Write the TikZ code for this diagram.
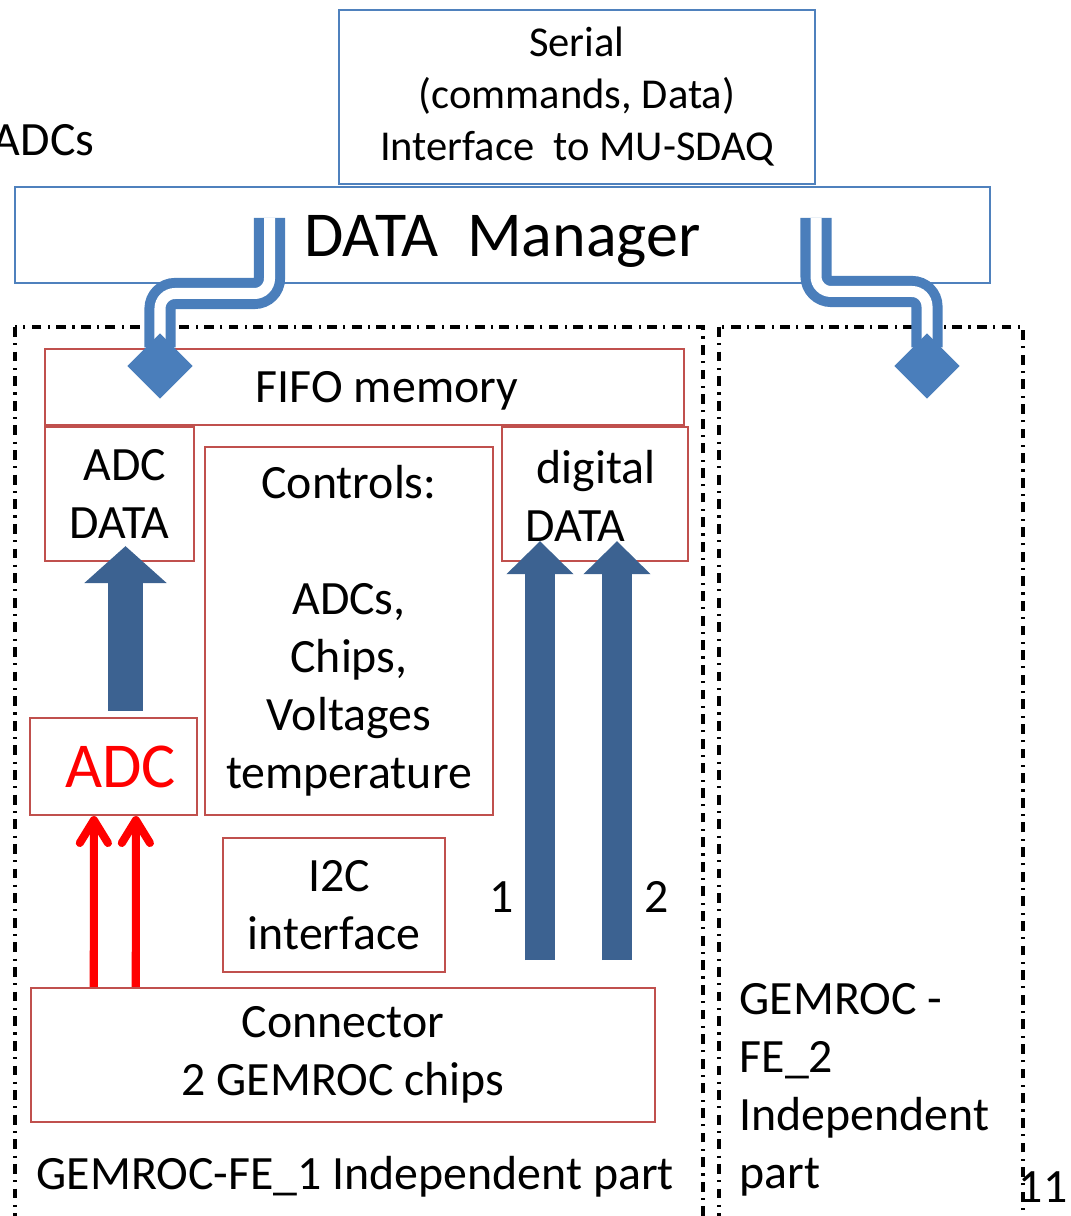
\documentclass[tikz,border=0pt]{standalone}
\usepackage{fontspec}
\setmainfont{Carlito}
\usepackage{tikz}
\usetikzlibrary{arrows.meta,positioning,calc,shapes.geometric}
\usepackage{xcolor}
\definecolor{boxred}{RGB}{192,80,77}
\definecolor{boxblue}{RGB}{79,129,189}
\definecolor{busblue}{RGB}{74,126,187}
\definecolor{fatblue}{RGB}{60,98,145}
\newcommand{\fsbig}{\fontsize{18.2pt}{20pt}\selectfont}
\newcommand{\fsmid}{\fontsize{13.6pt}{16.5pt}\selectfont}
\newcommand{\fssmall}{\fontsize{12.1pt}{14.8pt}\selectfont}

\begin{document}
\begin{tikzpicture}[x=0.01cm, y=-0.01cm,
        redbox/.style={draw=boxred, line width=0.6pt, inner sep=0pt, align=center, font=\fsmid},
        bluebox/.style={draw=boxblue, line width=0.6pt, inner sep=0pt, align=center},
        region/.style={line width=0.9pt, dash pattern=on 2.8pt off 1.8pt on 0.6pt off 1.8pt},
        bus/.style={draw=busblue, double=white, line width=2.85pt, double distance=3.13pt, rounded corners=0.15cm},
        bustip/.style={diamond, aspect=1, fill=busblue, inner sep=0pt, minimum width=0.64cm, minimum height=0.64cm},
        fatarrow/.style={draw=fatblue, line width=9.96pt, -{Triangle[length=10.5pt,width=22.8pt]}},
        slimarrow/.style={draw=fatblue, line width=8.5pt, -{Triangle[length=9.4pt,width=18.5pt]}},
        sigarrow/.style={draw=red, line width=2.3pt, -{Straight Barb[length=6.5pt,width=8pt,round]}},
        lbl/.style={inner sep=0pt, font=\fsmid}]
  \useasboundingbox (0,0) rectangle (1071,1216);
  \draw[region] (15,327) rectangle (703,1240);
  \draw[region] (719,327) rectangle (1023,1240);
  \node[bluebox, minimum width=4.76cm, minimum height=1.74cm, font=\fssmall] (serial) at (577,97)
        {Serial\\(commands, Data)\\Interface~~to MU-SDAQ};
  \node[bluebox, minimum width=9.75cm, minimum height=0.96cm, font=\fsbig, text height=16pt, text depth=4pt] (dm) at (502.5,235) {DATA~~Manager};
  \node[redbox, minimum width=6.39cm, minimum height=0.76cm] (fifo) at (364.5,387) {};
  \node[lbl] (fifotxt) at (387,391) {FIFO memory};
  \node[redbox, minimum width=1.49cm, minimum height=1.34cm] (adcdata) at (119.5,494) {~ADC\\DATA};
  \node[redbox, minimum width=1.86cm, minimum height=1.34cm] (digdata) at (595,494) {};
  \node[lbl, anchor=west, align=left] (digtxt) at (525,496) {~digital\\DATA};
  \node[redbox, minimum width=2.88cm, minimum height=3.68cm] (ctrl) at (349,631)
        {Controls:\\~\\ADCs,\\Chips,\\Voltages\\temperature};
  \node[redbox, minimum width=1.67cm, minimum height=0.97cm, font=\fsbig, text=red] (adc) at (113.5,766.5) {~ADC};
  \node[redbox, minimum width=2.22cm, minimum height=1.34cm] (i2c) at (334,905) {~I2C\\interface};
  \node[redbox, minimum width=6.24cm, minimum height=1.34cm] (conn) at (343,1055) {Connector\\2 GEMROC chips};
  \node[lbl, anchor=east] (adcs) at (95,140) {ADCs};
  \node[lbl] (one) at (502,897) {1};
  \node[lbl] (two) at (657,897) {2};
  \node[lbl, anchor=west] (fe1) at (36,1177) {GEMROC-FE\_1 Independent part};
  \node[lbl, anchor=west, align=left] (fe2) at (739,1090) {GEMROC -\\FE\_2\\Independent\\part};
  \node[lbl] (page) at (1043,1187) {11};
  \coordinate (dmL) at (269.5,218);
  \coordinate (dmR) at (816,218);
  \coordinate (d1) at (540,960);
  \coordinate (d2) at (617,960);
  \node[bustip] (fifoin) at (160,366) {};
  \node[bustip] (fe2in) at (927,366) {};
  \draw[bus, shorten >=-0.14cm] (dmL) -- ++(0,75.5) -| (fifoin.north);
  \draw[bus, shorten >=-0.14cm] (dmR) -- ++(0,73.5) -| (fe2in.north);
  \fill[busblue] (fifoin.north) -- (fifoin.east) -- (fifoin.south) -- (fifoin.west) -- cycle;
  \fill[busblue] (fe2in.north) -- (fe2in.east) -- (fe2in.south) -- (fe2in.west) -- cycle;
  \draw[fatarrow] ($(adc.north)+(12,-6)$) -- ($(adcdata.south)+(6,-16)$);
  \draw[slimarrow] (d1) -- ($(digdata.south)+(-55,-21)$);
  \draw[slimarrow] (d2) -- ($(digdata.south)+(22,-21)$);
  \draw[sigarrow] ($(conn.north west)+(64,0)$) -- ($(adc.south west)+(65,0)$);
  \draw[sigarrow] ($(conn.north west)+(106,0)$) -- ($(adc.south west)+(107,0)$);
\end{tikzpicture}
\end{document}
